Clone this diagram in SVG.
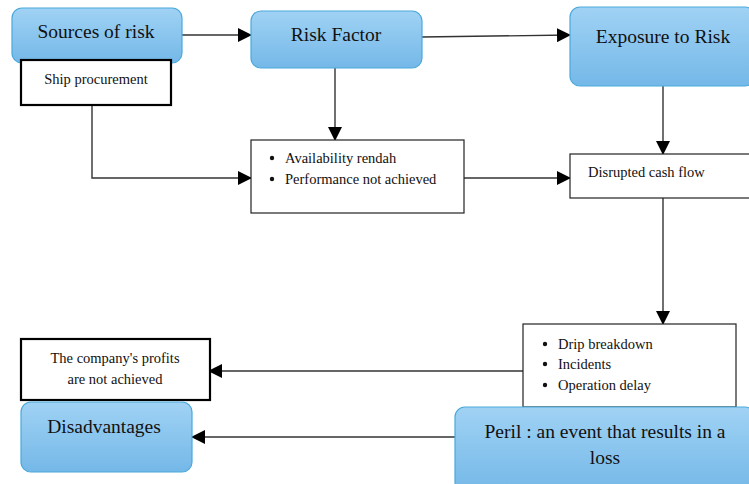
<svg xmlns="http://www.w3.org/2000/svg" width="749" height="484" viewBox="0 0 749 484">
<defs>
<linearGradient id="blue" x1="0" y1="0" x2="0" y2="1">
<stop offset="0" stop-color="#a0d2f4"/>
<stop offset="1" stop-color="#74b8e8"/>
</linearGradient>
<marker id="arr" markerWidth="14" markerHeight="14" refX="13" refY="7" orient="auto" markerUnits="userSpaceOnUse">
<path d="M0,0 L14,7 L0,14 Z" fill="#000"/>
</marker>
<style>
.rb{fill:url(#blue);stroke:#4aa9dc;stroke-width:1.2}
.wb{fill:#fff;stroke:#222;stroke-width:1.2}
.tb{fill:#fff;stroke:#000;stroke-width:2.2}
.t{font-family:"Liberation Serif","Times New Roman",serif;fill:#111}
.big{font-size:19.5px}
.sm{font-size:14.5px}
.c{stroke:#333;stroke-width:1.4;fill:none}
</style>
</defs>
<rect width="749" height="484" fill="#fff"/>
<g id="connectors">
<line class="c" x1="182" y1="35" x2="251" y2="35" marker-end="url(#arr)"/>
<line class="c" x1="422" y1="37" x2="570" y2="35" marker-end="url(#arr)"/>
<line class="c" x1="335" y1="68" x2="335" y2="140" marker-end="url(#arr)"/>
<polyline class="c" points="92,105 92,178 251,178" marker-end="url(#arr)"/>
<line class="c" x1="464" y1="178" x2="570" y2="178" marker-end="url(#arr)"/>
<line class="c" x1="663" y1="86" x2="663" y2="154" marker-end="url(#arr)"/>
<line class="c" x1="663" y1="198" x2="663" y2="324" marker-end="url(#arr)"/>
<line class="c" x1="523" y1="371" x2="209" y2="371" marker-end="url(#arr)"/>
<line class="c" x1="455" y1="437" x2="192" y2="437" marker-end="url(#arr)"/>
</g>
<g id="sources">
<rect class="rb" x="12" y="8" width="170" height="55" rx="10"/>
<text class="t big" x="96" y="38" text-anchor="middle">Sources of risk</text>
</g>
<g id="ship">
<rect class="tb" x="21" y="60" width="150" height="45"/>
<text class="t sm" x="96" y="84" text-anchor="middle">Ship procurement</text>
</g>
<g id="riskfactor">
<rect class="rb" x="251" y="11" width="171" height="57" rx="10"/>
<text class="t big" x="336" y="41" text-anchor="middle">Risk Factor</text>
</g>
<g id="exposure">
<rect class="rb" x="570" y="7" width="185" height="79" rx="10"/>
<text class="t big" x="663" y="43" text-anchor="middle">Exposure to Risk</text>
</g>
<g id="factors">
<rect class="wb" x="251" y="140" width="213" height="73"/>
<circle cx="272" cy="158" r="2.2" fill="#111"/>
<circle cx="272" cy="179" r="2.2" fill="#111"/>
<text class="t sm" x="285" y="163">Availability rendah</text>
<text class="t sm" x="285" y="184">Performance not achieved</text>
</g>
<g id="cashflow">
<rect class="wb" x="570" y="154" width="185" height="44"/>
<text class="t sm" x="588" y="177">Disrupted cash flow</text>
</g>
<g id="perilitems">
<rect class="wb" x="523" y="324" width="213" height="83"/>
<circle cx="545" cy="344" r="2.2" fill="#111"/>
<circle cx="545" cy="364" r="2.2" fill="#111"/>
<circle cx="545" cy="385" r="2.2" fill="#111"/>
<text class="t sm" x="558" y="349">Drip breakdown</text>
<text class="t sm" x="558" y="369">Incidents</text>
<text class="t sm" x="558" y="390">Operation delay</text>
</g>
<g id="profits">
<rect class="tb" x="21" y="339" width="189" height="61"/>
<text class="t sm" x="115" y="363" text-anchor="middle">The company's profits</text>
<text class="t sm" x="115" y="384" text-anchor="middle">are not achieved</text>
</g>
<g id="peril">
<rect class="rb" x="455" y="407" width="300" height="85" rx="10"/>
<text class="t big" x="605" y="438" text-anchor="middle">Peril : an event that results in a</text>
<text class="t big" x="605" y="464" text-anchor="middle">loss</text>
</g>
<g id="disadvantages">
<rect class="rb" x="21" y="402" width="171" height="70" rx="10"/>
<text class="t big" x="104" y="433" text-anchor="middle">Disadvantages</text>
</g>
</svg>
